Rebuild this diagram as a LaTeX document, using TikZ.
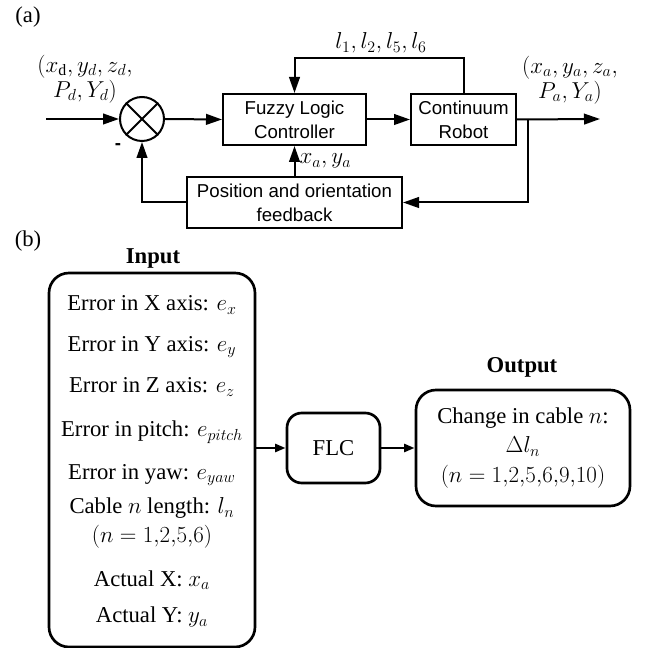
\documentclass[tikz,border=0pt]{standalone}
\usepackage{fontspec}
\setmainfont{Liberation Serif}
\newfontfamily\arialfont{Liberation Sans}
\usetikzlibrary{arrows.meta}

\begin{document}
\begin{tikzpicture}[x=0.75pt,y=-0.75pt,
    blk/.style={draw=black,line width=1.5pt,align=center,inner sep=0pt,font=\arialfont\fontsize{14}{18}\selectfont},
    sumnode/.style={draw=black,line width=1.5pt,circle,inner sep=0pt,minimum size=33pt},
    rbox/.style={draw=black,line width=2pt,rounded corners=11pt,align=center,inner sep=0pt,font=\fontsize{17}{22}\selectfont},
    txt/.style={inner sep=0pt,align=center,font=\fontsize{17}{21}\selectfont},
    lbl/.style={inner sep=0pt,align=center,font=\fontsize{17}{19}\selectfont},
    arr/.style={line width=1.5pt,-{Triangle[length=12pt,width=8pt]}},
    arrb/.style={line width=2pt,-{Triangle[length=8pt,width=6pt]}}]
            \useasboundingbox (0,0) rectangle (650,648);

            % (a) control loop
            \node[txt] (tagA) at (28,17) {(a)};
            \node[sumnode] (sum) at (142,119) {};
            \draw[line width=1.5pt] (sum.north west) -- (sum.south east);
            \draw[line width=1.5pt] (sum.north east) -- (sum.south west);
            \node[blk,minimum width=107.25pt,minimum height=38.25pt] (flc) at (294.5,119.5) {Fuzzy Logic\\Controller};
            \node[blk,minimum width=78.75pt,minimum height=38.25pt] (robot) at (463.5,119.5) {Continuum\\Robot};
            \node[blk,minimum width=161.25pt,minimum height=38.25pt] (fb) at (294.5,202.5) {Position and orientation\\feedback};

            \node[lbl] (ref) at (85,79) {$(x_{\mathrm{d}}, y_d, z_d,$\\$P_d, Y_d)$};
            \node[lbl] (act) at (570,80) {$(x_a, y_a, z_a,$\\$P_a, Y_a)$};
            \node[lbl] (cab) at (381,43) {$l_1, l_2, l_5, l_6$};
            \node[lbl,font=\arialfont\bfseries\fontsize{14}{16}\selectfont] (minus) at (118,147) {-};

            \coordinate (in) at (46,119);
            \coordinate (out) at (600,119);
            \coordinate (br) at (528,119);

            \draw[arr] (in) -- (sum.west);
            \draw[arr] (sum.east) -- (flc.west);
            \draw[arr] (flc.east) -- (robot.west);
            \draw[arr] (robot.east) -- (out);
            \draw[arr] (robot.north) -- ++(0,-35) -| (flc.north);
            \draw[arr] (br) |- (fb.east);
            \draw[arr] (fb.north) -- (flc.south) node[lbl,midway,right=3pt] {$x_a, y_a$};
            \draw[arr] (fb.west) -| (sum.south);

            % (b) fuzzy controller
            \node[txt] (tagB) at (28,241) {(b)};
            \node[txt,font=\bfseries\fontsize{17}{21}\selectfont] (inlbl) at (153,258) {Input};
            \node[txt,font=\bfseries\fontsize{17}{21}\selectfont] (outlbl) at (522,367) {Output};
            \node[rbox,rounded corners=15pt,minimum width=154.5pt,minimum height=280.5pt] (inbox) at (152,460) {};
            \foreach \y/\t [count=\i] in {305/{Error in X axis: $e_x$},
                                          347/{Error in Y axis: $e_y$},
                                          387/{Error in Z axis: $e_z$},
                                          432/{Error in pitch: $e_{pitch}$},
                                          475/{Error in yaw: $e_{yaw}$},
                                          508/{Cable $n$ length: $l_n$},
                                          537/{$(n = 1{,}2{,}5{,}6)$},
                                          580/{Actual X: $x_a$},
                                          617/{Actual Y: $y_a$}}
                \node[txt] (in\i) at (152,\y) {\t};
            \node[rbox,minimum width=69.75pt,minimum height=52.5pt] (flcb) at (333.5,448) {FLC};
            \node[rbox,rounded corners=15pt,minimum width=160.5pt,minimum height=87pt] (outbox) at (523,448) {Change in cable $n$:\\$\Delta l_n$\\$(n = 1{,}2{,}5{,}6{,}9{,}10)$};

            \draw[arrb] (inbox.east |- flcb.west) -- (flcb.west);
            \draw[arrb] (flcb.east) -- (outbox.west);
        \end{tikzpicture}
\end{document}
